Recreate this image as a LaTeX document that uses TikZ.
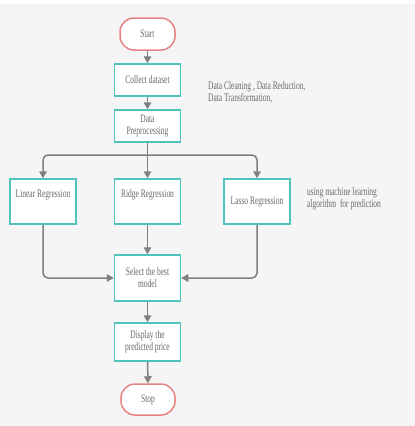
\documentclass[tikz,border=0pt]{standalone}
\usepackage{fontspec}
\usepackage{graphicx}
\setmainfont{Liberation Serif}
\usetikzlibrary{arrows.meta,positioning,calc}
\definecolor{bg}{HTML}{F5F5F5}
\definecolor{teal}{HTML}{52C2BC}
\definecolor{redb}{HTML}{E88282}
\definecolor{arr}{HTML}{7F7F7F}
\definecolor{txt}{HTML}{6A6A6A}
\newcommand{\sq}[1]{\scalebox{0.65}[1]{#1}}
\tikzset{
  base/.style={draw, fill=white, line width=1.5pt, inner sep=0pt, align=center,
    text=txt, font=\fontsize{11.5}{12}\selectfont},
  procbox/.style={base, draw=teal, rectangle, minimum width=66pt},
  termbox/.style={base, draw=redb, rectangle, rounded corners=14pt},
  conn/.style={draw=arr, line width=1.5pt, -{Triangle[width=7.5pt,length=7pt]}},
  note/.style={text=txt, font=\fontsize{11.5}{12}\selectfont, inner sep=0pt, anchor=west, align=left}
}
\begin{document}
\begin{tikzpicture}[x=1pt,y=-1pt]
\useasboundingbox (0,0) rectangle (415,426);
\fill[bg] (0,4) rectangle (415,426);
\fill[white] (0,0) rectangle (415,4);

\node[termbox, minimum width=55pt, minimum height=32pt] (start) at (147.5,34) {\sq{Start}};
\node[procbox, minimum height=32pt] (collect) at (147.5,80) {\sq{Collect dataset}};
\node[procbox, minimum height=32pt] (prep) at (147.5,126) {\sq{Data}\\\sq{Preprocessing}};
\coordinate (split) at (147.5,155);
\node[procbox, minimum height=45pt] (lin) at (43,201.5) {\sq{Linear Regression}\\\strut};
\node[procbox, minimum height=45pt] (ridge) at (147.5,201.5) {\sq{Ridge Regression}\\\strut};
\node[procbox, minimum height=45pt] (lasso) at (257,201.5) {\sq{Lasso Regression}};
\node[procbox, minimum height=46pt] (select) at (147.5,278) {\sq{Select the best}\\\sq{model}};
\node[procbox, minimum height=38pt] (display) at (147.5,342) {\sq{Display the}\\\sq{predicted price}};
\node[termbox, minimum width=54pt, minimum height=31pt] (stop) at (148,399.5) {\sq{Stop}};

\node[note] (n1) at (208,92) {\sq{Data Cleaning , Data Reduction,}\\\sq{Data Transformation,}};
\node[note] (n2) at (307,199) {\sq{using machine learning}\\\sq{algorithm\ \ for prediction}};

\draw[conn] (start) -- (collect);
\draw[conn] (collect) -- (prep);
\draw[conn] (prep) -- (ridge);
\draw[conn, rounded corners=5pt] (split) -| (lin.north);
\draw[conn, rounded corners=5pt] (split) -| (lasso.north);
\draw[conn] (ridge) -- (select);
\draw[conn, rounded corners=5pt] (lin.south) |- (select.west);
\draw[conn, rounded corners=5pt] (lasso.south) |- (select.east);
\draw[conn] (select) -- (display);
\draw[conn] (display) -- (stop);
\end{tikzpicture}
\end{document}
